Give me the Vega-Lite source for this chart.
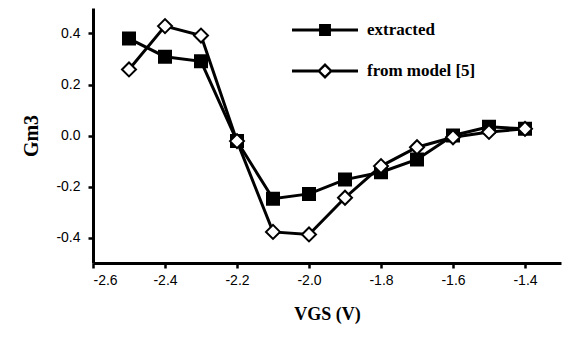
{
  "$schema": "https://vega.github.io/schema/vega-lite/v6.json",
  "width": 468,
  "height": 255,
  "autosize": {"type": "none"},
  "padding": {"left": 93, "top": 8, "right": 3, "bottom": 75},
  "background": "white",
  "config": {
    "view": {"stroke": null},
    "axis": {
      "grid": false,
      "domainColor": "black",
      "domainWidth": 3,
      "tickColor": "black",
      "tickWidth": 2.5,
      "tickSize": 5,
      "labelFont": "Liberation Sans",
      "labelFontSize": 14,
      "labelColor": "black",
      "titleFont": "Liberation Serif",
      "titleFontWeight": "bold",
      "titleColor": "black"
    }
  },
  "data": {
    "values": [
      {"vgs": -2.5, "gm3": 0.38, "series": "extracted"},
      {"vgs": -2.4, "gm3": 0.309, "series": "extracted"},
      {"vgs": -2.3, "gm3": 0.291, "series": "extracted"},
      {"vgs": -2.2, "gm3": -0.022, "series": "extracted"},
      {"vgs": -2.1, "gm3": -0.248, "series": "extracted"},
      {"vgs": -2.0, "gm3": -0.229, "series": "extracted"},
      {"vgs": -1.9, "gm3": -0.173, "series": "extracted"},
      {"vgs": -1.8, "gm3": -0.144, "series": "extracted"},
      {"vgs": -1.7, "gm3": -0.094, "series": "extracted"},
      {"vgs": -1.6, "gm3": 0.0, "series": "extracted"},
      {"vgs": -1.5, "gm3": 0.034, "series": "extracted"},
      {"vgs": -1.4, "gm3": 0.026, "series": "extracted"},
      {"vgs": -2.5, "gm3": 0.259, "series": "from model [5]"},
      {"vgs": -2.4, "gm3": 0.429, "series": "from model [5]"},
      {"vgs": -2.3, "gm3": 0.392, "series": "from model [5]"},
      {"vgs": -2.2, "gm3": -0.022, "series": "from model [5]"},
      {"vgs": -2.1, "gm3": -0.378, "series": "from model [5]"},
      {"vgs": -2.0, "gm3": -0.388, "series": "from model [5]"},
      {"vgs": -1.9, "gm3": -0.244, "series": "from model [5]"},
      {"vgs": -1.8, "gm3": -0.12, "series": "from model [5]"},
      {"vgs": -1.7, "gm3": -0.046, "series": "from model [5]"},
      {"vgs": -1.6, "gm3": -0.007, "series": "from model [5]"},
      {"vgs": -1.5, "gm3": 0.014, "series": "from model [5]"},
      {"vgs": -1.4, "gm3": 0.026, "series": "from model [5]"}
    ]
  },
  "encoding": {
    "x": {
      "field": "vgs",
      "type": "quantitative",
      "scale": {"domain": [-2.6, -1.3], "nice": false, "zero": false},
      "axis": {
        "values": [-2.6, -2.4, -2.2, -2.0, -1.8, -1.6, -1.4],
        "labelExpr": "replace(format(datum.value, '.1f'), '\u2212', '-')",
        "labelPadding": 5,
        "title": "VGS (V)",
        "titleFontSize": 18,
        "titlePadding": 18
      }
    },
    "y": {
      "field": "gm3",
      "type": "quantitative",
      "scale": {"domain": [-0.5, 0.5], "nice": false},
      "axis": {
        "values": [-0.4, -0.2, 0, 0.2, 0.4],
        "labelExpr": "replace(format(datum.value, '.1f'), '\u2212', '-')",
        "labelPadding": 8,
        "title": "Gm3",
        "titleFontSize": 20,
        "titlePadding": 14
      }
    }
  },
  "layer": [
    {
      "mark": {"type": "line", "color": "black", "strokeWidth": 3},
      "encoding": {
        "detail": {"field": "series", "type": "nominal"}
      }
    },
    {
      "mark": {"type": "point", "filled": true, "stroke": "black", "strokeWidth": 2, "opacity": 1},
      "encoding": {
        "shape": {
          "field": "series",
          "type": "nominal",
          "scale": {"domain": ["extracted", "from model [5]"], "range": ["square", "diamond"]},
          "legend": null
        },
        "fill": {
          "field": "series",
          "type": "nominal",
          "scale": {"domain": ["extracted", "from model [5]"], "range": ["black", "white"]},
          "legend": null
        },
        "size": {
          "field": "series",
          "type": "nominal",
          "scale": {"domain": ["extracted", "from model [5]"], "range": [144, 196]},
          "legend": null
        }
      }
    },
    {
      "transform": [{"filter": "false"}],
      "mark": {"type": "point", "filled": true, "color": "black", "strokeWidth": 0, "size": 4356, "opacity": 1},
      "encoding": {
        "shape": {
          "field": "series",
          "type": "nominal",
          "scale": {
            "domain": ["extracted", "from model [5]"],
            "range": [
              "M-1,-0.045H1V0.045H-1Z M-0.18,-0.18H0.18V0.18H-0.18Z",
              "M-1,-0.045H-0.2V0.045H-1Z M0.2,-0.045H1V0.045H0.2Z M-0.24,0L0,-0.24L0.24,0L0,0.24Z M-0.14,0L0,0.14L0.14,0L0,-0.14Z"
            ]
          },
          "legend": {
            "orient": "none",
            "legendX": 199,
            "legendY": -11,
            "title": null,
            "padding": 0,
            "symbolSize": 4356,
            "symbolStrokeWidth": 0,
            "symbolFillColor": "black",
            "symbolOpacity": 1,
            "labelFont": "Liberation Serif",
            "labelFontWeight": "bold",
            "labelFontSize": 17,
            "labelColor": "black",
            "labelOffset": 9,
            "rowPadding": -25
          }
        }
      }
    }
  ],
  "resolve": {"scale": {"shape": "independent"}, "legend": {"shape": "independent"}}
}
